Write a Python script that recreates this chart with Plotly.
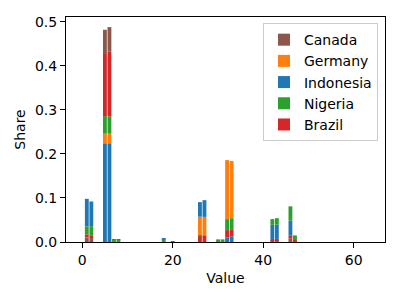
import plotly.graph_objects as go

# Bin centers (Value)
bins = [1, 2, 5, 6, 7, 8, 18, 20, 26, 27, 30, 31, 32, 33, 42, 43, 46, 47]

# Share per country in each bin
brazil    = [0.006, 0.005, 0.141, 0.148, 0.0,   0.0,   0.0,   0.0,   0.0125, 0.015, 0.0,   0.0,   0.017, 0.016, 0.003, 0.003, 0.007, 0.002]
nigeria   = [0.018, 0.022, 0.040, 0.039, 0.005, 0.005, 0.006, 0.0,   0.002,  0.0,   0.006, 0.006, 0.025, 0.025, 0.013, 0.014, 0.032, 0.011]
indonesia = [0.063, 0.056, 0.224, 0.224, 0.001, 0.001, 0.001, 0.002, 0.033,  0.038, 0.0,   0.0,   0.010, 0.013, 0.032, 0.033, 0.034, 0.002]
germany   = [0.001, 0.0,   0.022, 0.022, 0.0,   0.0,   0.0,   0.0,   0.043,  0.042, 0.0,   0.0,   0.134, 0.130, 0.0,   0.0,   0.0,   0.0]
canada    = [0.010, 0.009, 0.055, 0.055, 0.0,   0.0,   0.0,   0.0,   0.0,    0.0,   0.0,   0.0,   0.0,   0.0,   0.004, 0.004, 0.008, 0.0]

# Stacking order in each bin, bottom to top (C=Canada, G=Germany, I=Indonesia, N=Nigeria, B=Brazil)
stack_order = ["CGBNI", "CGBNI", "IGNBC", "IGNBC", "NI", "NI", "NI", "I",
               "BNGI", "BNGI", "N", "N", "IBNG", "IBNG", "CBIN", "CBIN", "CBIN", "IBN"]

series = [
    ("Canada", "C", canada, "#8c564b"),
    ("Germany", "G", germany, "#ff7f0e"),
    ("Indonesia", "I", indonesia, "#1f77b4"),
    ("Nigeria", "N", nigeria, "#2ca02c"),
    ("Brazil", "B", brazil, "#d62728"),
]
values_by_key = {key: vals for _, key, vals, _ in series}

fig = go.Figure()
for name, key, vals, color in series:
    bases = []
    for i, order in enumerate(stack_order):
        b = 0.0
        for k in order:
            if k == key:
                break
            b += values_by_key[k][i]
        bases.append(b)
    fig.add_trace(go.Bar(
        x=bins, y=vals, base=bases, name=name,
        marker=dict(color=color, line=dict(width=0)),
        width=0.85,
    ))

FONT = dict(family="DejaVu Sans", size=14, color="black")

axis_common = dict(
    showline=True, mirror=True, linecolor="black", linewidth=1,
    ticks="outside", ticklen=5, tickwidth=1, tickcolor="black",
    showgrid=False, zeroline=False, automargin=False,
    tickfont=FONT,
)

# The page body adds an 8px offset, so the figure is sized to fit the window.
fig.update_layout(
    width=392, height=292,
    margin=dict(l=58, r=15, t=9, b=58),
    paper_bgcolor="white", plot_bgcolor="white",
    barmode="overlay",
    font=FONT,
    xaxis=dict(range=[-3.6, 66.9], tickvals=[0, 20, 40, 60],
               title=dict(text="Value", standoff=6, font=FONT),
               **axis_common),
    yaxis=dict(range=[0, 0.511], tickvals=[0, 0.1, 0.2, 0.3, 0.4, 0.5],
               tickformat=".1f",
               title=dict(text="Share", standoff=6, font=FONT),
               **axis_common),
    legend=dict(x=0.978, y=0.973, xanchor="right", yanchor="top",
                bordercolor="#cccccc", borderwidth=1,
                bgcolor="rgba(255,255,255,0.8)",
                font=FONT,
                traceorder="normal"),
)

fig.write_html("out.html")
